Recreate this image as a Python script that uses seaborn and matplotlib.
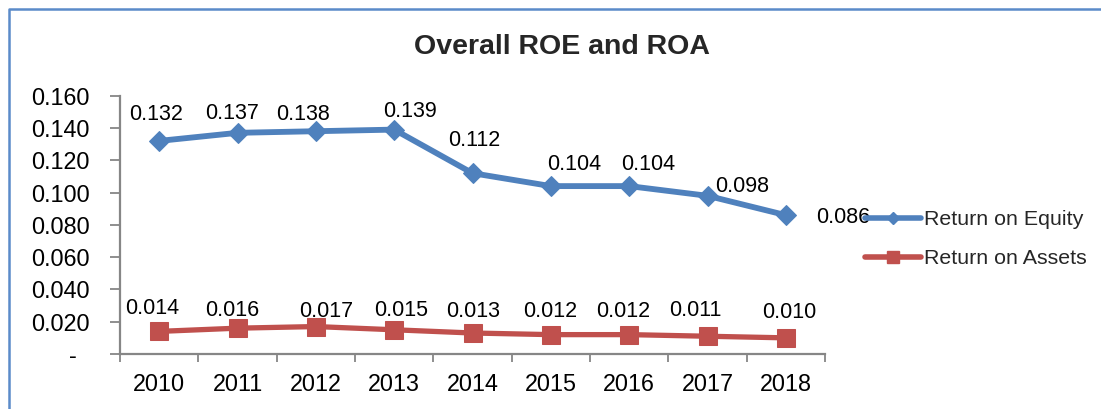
import matplotlib
matplotlib.use("Agg")
import matplotlib.pyplot as plt
import matplotlib.ticker as mticker
from matplotlib.lines import Line2D
import numpy as np
import pandas as pd
import seaborn as sns

# ---------------------------------------------------------------------------
# Data
# ---------------------------------------------------------------------------
years = ["2010", "2011", "2012", "2013", "2014", "2015", "2016", "2017", "2018"]
roe = [0.132, 0.137, 0.138, 0.139, 0.112, 0.104, 0.104, 0.098, 0.086]
roa = [0.014, 0.016, 0.017, 0.015, 0.013, 0.012, 0.012, 0.011, 0.010]
series_names = ["Return on Equity", "Return on Assets"]

# label nudges (pixels) so the value labels sit like in the original
roe_offsets = [(-3, 26), (-5, 19), (-13, 17), (16, 18), (2, 33),
               (23, 22), (19, 22), (35, 9), (57, -2)]
roa_offsets = [(-7, 23), (-5, 18), (10, 15), (7, 19), (1, 22),
               (-1, 23), (-6, 23), (-12, 26), (3, 25)]

BLUE = "#4F81BD"
RED = "#C0504D"
AXIS = "#868686"

sns.set_theme(style="white")
plt.rcParams["font.family"] = ["Liberation Sans", "DejaVu Sans"]

W, H = 1101, 409
fig = plt.figure(figsize=(W / 100, H / 100), dpi=100)
ax = fig.add_axes([120 / W, 1 - 354 / H, (825 - 120) / W, (354 - 95.7) / H])

idx = np.arange(len(years))
df = pd.DataFrame({"pos": idx, "roe": roe, "roa": roa})

sns.lineplot(data=df, x="pos", y="roe", ax=ax, color=BLUE, lw=4.2,
             marker="D", markersize=10.5, markeredgecolor=BLUE, legend=False)
sns.lineplot(data=df, x="pos", y="roa", ax=ax, color=RED, lw=3.8,
             marker="s", markersize=13.5, markeredgecolor=RED, legend=False)

for i, (v, off) in enumerate(zip(roe, roe_offsets)):
    ax.annotate(f"{v:.3f}", (idx[i], v), xytext=off, textcoords="offset pixels",
                ha="center", va="center", fontsize=15.5, color="black")
for i, (v, off) in enumerate(zip(roa, roa_offsets)):
    ax.annotate(f"{v:.3f}", (idx[i], v), xytext=off, textcoords="offset pixels",
                ha="center", va="center", fontsize=15.5, color="black")

# axes styling (Excel-like)
ax.set_xlim(-0.5, len(years) - 0.5)
ax.set_ylim(0, 0.16)
ax.set_yticks(np.arange(0, 0.161, 0.02))
ax.yaxis.set_major_formatter(
    mticker.FuncFormatter(lambda v, p: "-  " if abs(v) < 1e-9 else f"{v:.3f}"))
ax.set_xticks(np.arange(-0.5, len(years), 1.0))
ax.set_xticklabels([])
ax.set_xticks(idx, minor=True)
ax.set_xticklabels(years, minor=True)
ax.tick_params(axis="x", which="major", direction="out", length=6,
               width=1.3, color=AXIS, bottom=True)
ax.tick_params(axis="x", which="minor", length=0, pad=14, labelsize=16.8,
               labelcolor="black")
ax.tick_params(axis="y", direction="out", length=7, width=1.3, color=AXIS,
               left=True, pad=15, labelsize=16.8, labelcolor="black")
for side in ["top", "right"]:
    ax.spines[side].set_visible(False)
for side in ["left", "bottom"]:
    ax.spines[side].set_color(AXIS)
    ax.spines[side].set_linewidth(1.6)
ax.set_xlabel("")
ax.set_ylabel("")
ax.grid(False)

# legend
handles = [
    Line2D([], [], color=BLUE, lw=4, marker="D", markersize=6),
    Line2D([], [], color=RED, lw=4, marker="s", markersize=8),
]
fig.legend(handles, series_names, loc="upper left",
           bbox_to_anchor=(865 / W, 1 - 210 / H), frameon=False,
           fontsize=15.4, handlelength=2.6, handletextpad=0.15,
           labelspacing=0.95, borderpad=0, borderaxespad=0)

fig.text(561.5 / W, 1 - 47 / H, "Overall ROE and ROA", ha="center",
         va="center", fontsize=20.5, fontweight="bold")

# chart frame (left and top edges visible in the crop)
frame = Line2D([9 / W, 9 / W, 1.0], [0.0, 1 - 9 / H, 1 - 9 / H],
               transform=fig.transFigure, color="#5B8BC9", lw=1.8)
fig.add_artist(frame)

fig.savefig("out.png", dpi=100)
